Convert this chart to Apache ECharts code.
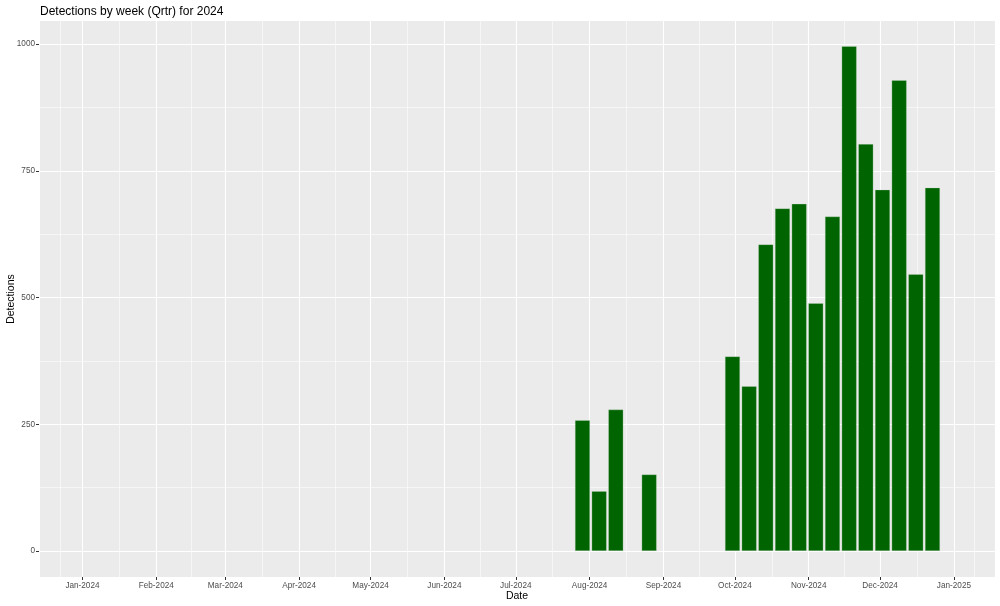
<!DOCTYPE html>
<html>
<head>
<meta charset="utf-8">
<script src="https://cdn.jsdelivr.net/npm/echarts@6/dist/echarts.min.js"></script>
<style>
html,body{margin:0;padding:0;background:#fff;}
#chart{width:1000px;height:606px;}
</style>
</head>
<body>
<div id="chart"></div>
<script>
// ---- data ----
const weeks = ['2024-07-29','2024-08-05','2024-08-12','2024-08-26','2024-09-30','2024-10-07','2024-10-14','2024-10-21','2024-10-28','2024-11-04','2024-11-11','2024-11-18','2024-11-25','2024-12-02','2024-12-09','2024-12-16','2024-12-23'];
const detections = [258,118,279,151,384,325,605,676,685,489,660,996,803,713,929,546,717];
const yTicks = [0,250,500,750,1000];
const xLimits = ['2024-01-01','2024-12-31'];

function utc(s){const p=s.split('-').map(Number);return Date.UTC(p[0],p[1]-1,p[2]);}
const lo = utc(xLimits[0]), hi = utc(xLimits[1]);
const ex = (hi-lo)*0.05;
const xMin = lo-ex, xMax = hi+ex;
const yDataMax = Math.max(...detections);
const yEx = yDataMax*0.05;
const MONTHS=['Jan','Feb','Mar','Apr','May','Jun','Jul','Aug','Sep','Oct','Nov','Dec'];

const font = '"Liberation Sans", Arial, sans-serif';
const chart = echarts.init(document.getElementById('chart'), null, {renderer:'canvas'});
chart.setOption({
  useUTC: true,
  animation: false,
  backgroundColor: '#ffffff',
  title: {
    text: 'Detections by week (Qrtr) for 2024',
    left: 35, top: 1,
    textStyle: {fontFamily: font, fontSize: 12, fontWeight: 'normal', color: '#000'}
  },
  grid: [
    {left: 39, right: 5, top: 21, bottom: 29, show: true, backgroundColor: '#EBEBEB', borderWidth: 0, containLabel: false, outerBoundsMode: 'none'},
    {left: 39, right: 5, top: 21, bottom: 55, containLabel: false, outerBoundsMode: 'none'}
  ],
  xAxis: [
    {
      type: 'time', gridIndex: 0, min: xMin, max: xMax, splitNumber: 13,
      name: 'Date', nameLocation: 'middle', nameGap: 14, nameMoveOverlap: false,
      nameTextStyle: {fontFamily: font, fontSize: 10.5, color: '#000'},
      axisLine: {show: false},
      axisTick: {show: true, length: 3, lineStyle: {color: '#333', width: 1}},
      axisLabel: {
        fontFamily: font, fontSize: 8.2, color: '#4d4d4d', margin: 5,
        formatter: function(v){const d=new Date(v);return MONTHS[d.getUTCMonth()]+'-'+d.getUTCFullYear();},
        hideOverlap: false
      },
      splitLine: {show: true, lineStyle: {color: '#ffffff', width: 1.1}},
      minorTick: {show: false, splitNumber: 2},
      minorSplitLine: {show: true, lineStyle: {color: '#ffffff', width: 0.55}}
    },
    {
      type: 'value', gridIndex: 1, min: xMin, max: xMax, show: false,
      splitLine: {show: false}
    }
  ],
  yAxis: [
    {
      type: 'value', gridIndex: 0, min: 0, max: 1,
      name: 'Detections', nameLocation: 'middle', nameGap: 22, nameRotate: 90, nameMoveOverlap: false,
      nameTextStyle: {fontFamily: font, fontSize: 10.5, color: '#000'},
      axisLine: {show: false}, axisTick: {show: false}, axisLabel: {show: false}, splitLine: {show: false}
    },
    {
      type: 'value', gridIndex: 1, min: 0, max: yDataMax + yEx, interval: 250,
      axisLine: {show: false},
      axisTick: {show: true, length: 3, customValues: yTicks, lineStyle: {color: '#333', width: 1}},
      axisLabel: {
        fontFamily: font, fontSize: 8.2, color: '#4d4d4d', margin: 4,
        customValues: yTicks,
        formatter: function(v){return String(v);}
      },
      splitLine: {show: true, lineStyle: {color: '#ffffff', width: 1.1}},
      minorTick: {show: false, splitNumber: 2},
      minorSplitLine: {show: true, lineStyle: {color: '#ffffff', width: 0.55}}
    }
  ],
  series: [{
    type: 'bar',
    xAxisIndex: 1, yAxisIndex: 1,
    data: weeks.map((w,i)=>[utc(w), detections[i]]),
    barWidth: '90%',
    itemStyle: {color: '#006400', borderColor: 'rgba(200,220,200,0.6)', borderWidth: 0.5}
  }]
});
</script>
</body>
</html>
